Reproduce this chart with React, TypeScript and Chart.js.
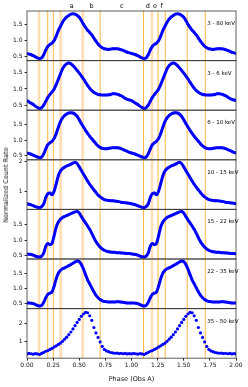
import React, { useEffect, useRef } from "react";
import { Chart, registerables } from "chart.js";

Chart.register(...registerables);

// Phase grid of one cycle (step 0.02)
const phaseStep = 0.02;

const energyLabels = ["3 - 80 keV", "3 - 6 keV", "6 - 10 keV", "10 - 15 keV", "15 - 22 keV", "22 - 35 keV", "35 - 50 keV"];

const prof3to80 = [0.59, 0.57, 0.55, 0.52, 0.48, 0.45, 0.43, 0.45, 0.55, 0.70, 0.82, 0.88, 0.92, 1.00, 1.15, 1.32, 1.45, 1.58, 1.68, 1.75, 1.80, 1.84, 1.85, 1.84, 1.80, 1.74, 1.64, 1.52, 1.42, 1.33, 1.26, 1.18, 1.08, 0.98, 0.89, 0.82, 0.77, 0.74, 0.73, 0.72, 0.73, 0.74, 0.74, 0.74, 0.73, 0.71, 0.69, 0.66, 0.63, 0.61];
const prof3to6 = [0.64, 0.60, 0.56, 0.52, 0.47, 0.43, 0.40, 0.42, 0.50, 0.62, 0.74, 0.83, 0.91, 1.00, 1.14, 1.30, 1.46, 1.62, 1.72, 1.78, 1.80, 1.78, 1.72, 1.65, 1.57, 1.49, 1.40, 1.31, 1.21, 1.11, 1.02, 0.95, 0.90, 0.86, 0.83, 0.82, 0.81, 0.81, 0.81, 0.82, 0.83, 0.85, 0.85, 0.84, 0.82, 0.79, 0.75, 0.71, 0.68, 0.66];
const prof6to10 = [0.59, 0.57, 0.55, 0.52, 0.49, 0.46, 0.44, 0.46, 0.56, 0.72, 0.86, 0.92, 0.97, 1.06, 1.22, 1.42, 1.60, 1.72, 1.80, 1.85, 1.88, 1.89, 1.88, 1.84, 1.77, 1.66, 1.54, 1.43, 1.32, 1.22, 1.13, 1.05, 0.97, 0.89, 0.82, 0.77, 0.74, 0.73, 0.73, 0.74, 0.75, 0.76, 0.76, 0.76, 0.75, 0.73, 0.70, 0.67, 0.64, 0.61];
const prof10to15 = [0.57, 0.55, 0.53, 0.50, 0.47, 0.45, 0.44, 0.47, 0.56, 0.78, 0.91, 0.93, 0.87, 1.00, 1.25, 1.52, 1.68, 1.76, 1.81, 1.85, 1.88, 1.91, 1.95, 1.98, 1.93, 1.82, 1.70, 1.58, 1.46, 1.34, 1.23, 1.13, 1.04, 0.95, 0.86, 0.80, 0.75, 0.71, 0.69, 0.68, 0.67, 0.67, 0.66, 0.65, 0.64, 0.62, 0.61, 0.60, 0.59, 0.58];
const prof15to22 = [0.55, 0.54, 0.53, 0.51, 0.48, 0.46, 0.45, 0.48, 0.58, 0.80, 0.89, 0.85, 0.90, 1.15, 1.43, 1.59, 1.68, 1.74, 1.77, 1.80, 1.83, 1.86, 1.89, 1.92, 1.93, 1.88, 1.77, 1.66, 1.56, 1.46, 1.35, 1.22, 1.08, 0.95, 0.85, 0.77, 0.71, 0.67, 0.64, 0.62, 0.61, 0.60, 0.60, 0.59, 0.59, 0.58, 0.58, 0.57, 0.56, 0.56];
const prof22to35 = [0.53, 0.53, 0.52, 0.51, 0.48, 0.45, 0.43, 0.45, 0.55, 0.70, 0.81, 0.85, 0.89, 1.08, 1.32, 1.50, 1.59, 1.64, 1.67, 1.70, 1.74, 1.78, 1.82, 1.86, 1.89, 1.87, 1.78, 1.63, 1.45, 1.28, 1.15, 1.02, 0.89, 0.78, 0.70, 0.64, 0.60, 0.58, 0.57, 0.56, 0.56, 0.56, 0.56, 0.57, 0.57, 0.56, 0.55, 0.54, 0.53, 0.53];
const prof35to50 = [0.33, 0.36, 0.34, 0.32, 0.35, 0.33, 0.30, 0.36, 0.42, 0.48, 0.52, 0.58, 0.64, 0.72, 0.78, 0.86, 0.93, 1.03, 1.15, 1.26, 1.40, 1.55, 1.72, 1.90, 2.08, 2.25, 2.42, 2.55, 2.64, 2.62, 2.45, 2.20, 1.80, 1.50, 1.25, 1.00, 0.75, 0.58, 0.50, 0.46, 0.41, 0.39, 0.37, 0.38, 0.35, 0.37, 0.34, 0.36, 0.33, 0.35];

const profiles = [prof3to80, prof3to6, prof6to10, prof10to15, prof15to22, prof22to35, prof35to50];

const yMins = [0.364, 0.344, 0.37, 0.375, 0.384, 0.347, 0.094];
const yMaxs = [1.94, 1.875, 1.97, 2.06, 2.0, 1.956, 2.85];
const yTicksDecimal = [0.5, 1.0, 1.5];
const yTicksInteger = [1, 2];
const integerTickPanels = [3, 6];

const xTicks = [0, 0.25, 0.5, 0.75, 1.0, 1.25, 1.5, 1.75, 2.0];

const lightLines = [0.115, 0.322, 0.533, 1.196];
const darkLines = [0.198, 0.252, 0.70, 1.115, 1.254, 1.323, 1.533, 1.706];
const regionLetters = ["a", "b", "c", "d", "e", "f"];
const regionLetterPhases = [0.427, 0.617, 0.908, 1.156, 1.225, 1.289];

// Layout (figure pixels)
const W = 248;
const H = 387;
const PLOT_LEFT = 27;
const PLOT_RIGHT = 236;
const PLOT_TOP = 11;
const PLOT_BOTTOM = 358.2;
const N = 7;
const PANEL_H = (PLOT_BOTTOM - PLOT_TOP) / N;
const FONT = "'DejaVu Sans', sans-serif";

function buildPoints(vals: number[]) {
  const pts: { x: number; y: number }[] = [];
  for (let c = 0; c < 2; c++) {
    vals.forEach((v, i) => pts.push({ x: c + i * phaseStep, y: v }));
  }
  pts.push({ x: 2, y: vals[0] });
  return pts;
}

function Panel({ idx }: { idx: number }) {
  const ref = useRef<HTMLCanvasElement | null>(null);
  const top = PLOT_TOP + idx * PANEL_H;
  const bottom = top + PANEL_H;
  const last = idx === N - 1;
  const canvasTop = Math.floor(top) - 11;
  const canvasH = last ? H - canvasTop : Math.ceil(bottom) + 11 - canvasTop;
  const padTop = top - canvasTop;
  const padBottom = last ? 0 : canvasTop + canvasH - bottom;

  useEffect(() => {
    const canvas = ref.current!;
    const isInt = integerTickPanels.includes(idx);
    const decorPlugin = {
      id: "decor" + idx,
      beforeDatasetsDraw(chart: any) {
        const { ctx, chartArea } = chart;
        const xs = chart.scales.x;
        ctx.save();
        lightLines.forEach((v) => {
          const px = xs.getPixelForValue(v);
          ctx.strokeStyle = "rgba(255,190,110,0.5)";
          ctx.lineWidth = 2.6;
          ctx.beginPath();
          ctx.moveTo(px, chartArea.top);
          ctx.lineTo(px, chartArea.bottom);
          ctx.stroke();
        });
        darkLines.forEach((v) => {
          const px = xs.getPixelForValue(v);
          ctx.strokeStyle = "rgba(255,170,30,0.85)";
          ctx.lineWidth = 1;
          ctx.beginPath();
          ctx.moveTo(px, chartArea.top);
          ctx.lineTo(px, chartArea.bottom);
          ctx.stroke();
        });
        ctx.restore();
      },
      afterDraw(chart: any) {
        const { ctx, chartArea } = chart;
        const xs = chart.scales.x;
        ctx.save();
        ctx.strokeStyle = "rgba(40,40,40,0.75)";
        ctx.lineWidth = 1;
        ctx.strokeRect(chartArea.left, chartArea.top, chartArea.right - chartArea.left, chartArea.bottom - chartArea.top);
        ctx.fillStyle = "#000";
        ctx.font = `5.5px ${FONT}`;
        ctx.textAlign = "left";
        ctx.textBaseline = "middle";
        ctx.fillText(energyLabels[idx], chartArea.left + 0.862 * (chartArea.right - chartArea.left), chartArea.top + 12.5);
        if (idx === 0) {
          ctx.font = `6.5px ${FONT}`;
          ctx.textAlign = "center";
          regionLetters.forEach((l, i) => {
            ctx.fillText(l, xs.getPixelForValue(regionLetterPhases[i]), chartArea.top - 4.6);
          });
        }
        ctx.restore();
      },
    };

    const chart = new Chart(canvas, {
      type: "line",
      data: {
        datasets: [
          {
            data: buildPoints(profiles[idx]),
            borderColor: "#0000ff",
            backgroundColor: "#0000ff",
            borderWidth: last ? 0 : 3,
            showLine: !last,
            pointRadius: last ? 1.6 : 1.2,
            pointBorderWidth: 0,
            pointBackgroundColor: "#0000ff",
            cubicInterpolationMode: "monotone",
          } as any,
        ],
      },
      options: {
        responsive: false,
        animation: false,
        events: [],
        layout: { padding: { left: 0, right: W - PLOT_RIGHT, top: padTop, bottom: padBottom } },
        plugins: { legend: { display: false }, tooltip: { enabled: false } },
        scales: {
          x: {
            type: "linear",
            min: 0,
            max: 2,
            display: last,
            afterBuildTicks: (s: any) => {
              s.ticks = xTicks.map((v) => ({ value: v }));
            },
            afterFit: (s: any) => {
              s.height = last ? H - PLOT_BOTTOM : 0;
            },
            ticks: {
              autoSkip: false,
              maxRotation: 0,
              padding: 1.2,
              color: "#111",
              font: { family: FONT, size: 6 },
              callback: (v: any) => Number(v).toFixed(2),
            },
            grid: { display: true, drawOnChartArea: false, drawTicks: true, tickLength: 2.5, color: "#333" },
            border: { display: false },
            title: {
              display: true,
              text: "Phase (Obs A)",
              color: "#111",
              font: { family: FONT, size: 6.5 },
              padding: { top: 0, bottom: 4 },
            },
          },
          y: {
            type: "linear",
            min: yMins[idx],
            max: yMaxs[idx],
            afterBuildTicks: (s: any) => {
              s.ticks = (isInt ? yTicksInteger : yTicksDecimal).map((v) => ({ value: v }));
            },
            afterFit: (s: any) => {
              s.width = PLOT_LEFT;
            },
            ticks: {
              padding: 2,
              color: "#111",
              font: { family: FONT, size: 6 },
              callback: (v: any) => (isInt ? String(Math.round(Number(v))) : Number(v).toFixed(1)),
            },
            grid: { display: true, drawOnChartArea: false, drawTicks: true, tickLength: 2.5, color: "#333" },
            border: { display: false },
          },
        },
      },
      plugins: [decorPlugin],
    });
    return () => chart.destroy();
  }, [idx]);

  return (
    <canvas
      ref={ref}
      width={W}
      height={canvasH}
      style={{ position: "absolute", left: 0, top: canvasTop, width: W, height: canvasH }}
    />
  );
}

export default function App() {
  return (
    <div style={{ position: "absolute", left: 0, top: 0, width: W, height: H, background: "#fff", overflow: "hidden" }}>
      {profiles.map((_, i) => (
        <Panel key={i} idx={i} />
      ))}
      <div
        style={{
          position: "absolute",
          left: 6,
          top: (PLOT_TOP + PLOT_BOTTOM) / 2,
          transform: "translate(-50%, -50%) rotate(-90deg)",
          whiteSpace: "nowrap",
          fontFamily: FONT,
          fontSize: 6.5,
          color: "#111",
        }}
      >
        Normalized Count Rate
      </div>
    </div>
  );
}
